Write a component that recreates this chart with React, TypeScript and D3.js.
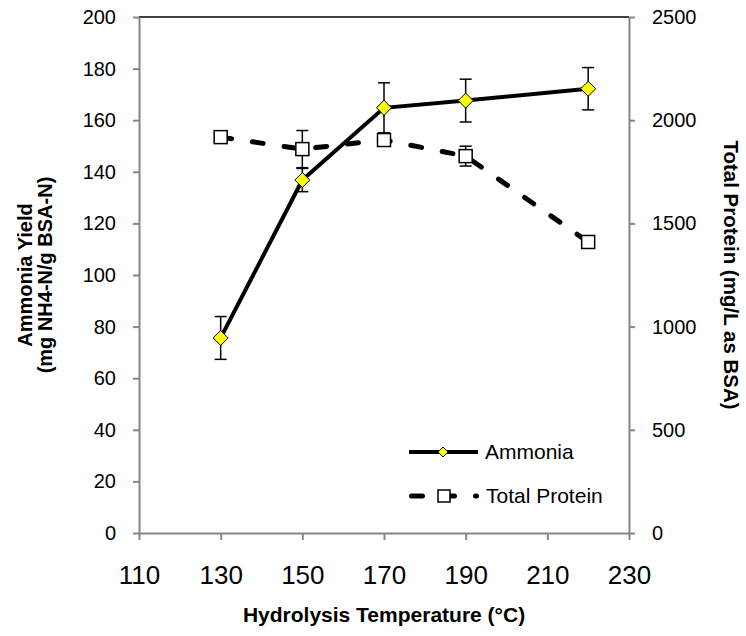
import * as d3 from "d3"
import { useEffect, useRef } from "react"

// hydrolysis temperatures (°C)
const temps = [130, 150, 170, 190, 220]
// ammonia yield (mg NH4-N/g BSA-N) and its error
const ammonia = [75.6, 136.8, 164.8, 167.6, 172.2]
const ammoniaErr = [8.3, 4.5, 9.7, 8.3, 8.2]
// total protein (mg/L as BSA) and its error
const protein = [1918, 1860, 1904, 1826, 1410]
const proteinErr = [20, 90, 20, 48, 15]

const xTicks = [110, 130, 150, 170, 190, 210, 230]
const yLeftTicks = [0, 20, 40, 60, 80, 100, 120, 140, 160, 180, 200]
const yRightTicks = [0, 500, 1000, 1500, 2000, 2500]

const W = 746
const H = 636
const FONT = "'Liberation Sans', Arial, sans-serif"

export default function App() {

	const svgRef = useRef(null)

	useEffect(() => {
		const svg = d3.select(svgRef.current)
		svg.selectAll('*').remove()

		const left = 139, right = 629, top = 17, bottom = 533
		const axisColor = '#868686'

		const x = d3.scaleLinear().domain([110, 230]).range([left, right])
		const yL = d3.scaleLinear().domain([0, 200]).range([bottom, top])
		const yR = d3.scaleLinear().domain([0, 2500]).range([bottom, top])

		// top frame line
		svg.append('line')
			.attr('x1', left).attr('x2', right)
			.attr('y1', top).attr('y2', top)
			.attr('stroke', 'black')
			.attr('stroke-width', 1.5)

		const styleAxis = (g, size) => {
			g.attr('font-family', FONT).attr('font-size', size)
			g.select('.domain').attr('stroke', axisColor).attr('stroke-width', 2)
			g.selectAll('.tick line').attr('stroke', axisColor).attr('stroke-width', 2)
			g.selectAll('.tick text').attr('fill', 'black')
		}

		// left axis
		svg.append('g')
			.attr('transform', `translate(${left},0)`)
			.call(d3.axisLeft(yL).tickValues(yLeftTicks).tickSize(6).tickSizeOuter(0).tickPadding(17))
			.call(g => styleAxis(g, 20))

		// right axis
		svg.append('g')
			.attr('transform', `translate(${right},0)`)
			.call(d3.axisRight(yR).tickValues(yRightTicks).tickFormat(d3.format('d')).tickSize(6).tickSizeOuter(0).tickPadding(17))
			.call(g => styleAxis(g, 20))

		// bottom axis
		svg.append('g')
			.attr('transform', `translate(0,${bottom})`)
			.call(d3.axisBottom(x).tickValues(xTicks).tickSize(7).tickSizeOuter(0).tickPadding(26))
			.call(g => styleAxis(g, 26))

		// axis titles
		svg.append('text')
			.attr('x', (left + right) / 2)
			.attr('y', 622)
			.attr('text-anchor', 'middle')
			.attr('font-family', FONT)
			.attr('font-weight', 'bold')
			.attr('font-size', 21)
			.text('Hydrolysis Temperature (°C)')

		const leftTitle = svg.append('text')
			.attr('transform', `translate(0,${(top + bottom) / 2}) rotate(-90)`)
			.attr('text-anchor', 'middle')
			.attr('font-family', FONT)
			.attr('font-weight', 'bold')
			.attr('font-size', 20)
		leftTitle.append('tspan').attr('x', 0).attr('y', 32).text('Ammonia Yield')
		leftTitle.append('tspan').attr('x', 0).attr('y', 52).text('(mg NH4-N/g BSA-N)')

		svg.append('text')
			.attr('transform', `translate(724,${(top + bottom) / 2}) rotate(90)`)
			.attr('text-anchor', 'middle')
			.attr('font-family', FONT)
			.attr('font-weight', 'bold')
			.attr('font-size', 20.5)
			.text('Total Protein (mg/L as BSA)')

		const protData = temps.map((t, i) => ({ t, v: protein[i], e: proteinErr[i] }))
		const ammData = temps.map((t, i) => ({ t, v: ammonia[i], e: ammoniaErr[i] }))

		const capW = 6
		const errorBars = (data, y) => {
			const g = svg.append('g').attr('stroke', 'black').attr('stroke-width', 1.5)
			data.forEach(d => {
				const cx = x(d.t)
				g.append('line').attr('x1', cx).attr('x2', cx).attr('y1', y(d.v - d.e)).attr('y2', y(d.v + d.e))
				g.append('line').attr('x1', cx - capW).attr('x2', cx + capW).attr('y1', y(d.v - d.e)).attr('y2', y(d.v - d.e))
				g.append('line').attr('x1', cx - capW).attr('x2', cx + capW).attr('y1', y(d.v + d.e)).attr('y2', y(d.v + d.e))
			})
		}

		// total protein: dashed line, error bars, squares
		svg.append('path')
			.datum(protData)
			.attr('d', d3.line().x(d => x(d.t)).y(d => yR(d.v)))
			.attr('fill', 'none')
			.attr('stroke', 'black')
			.attr('stroke-width', 5)
			.attr('stroke-linecap', 'round')
			.attr('stroke-dasharray', '11,21')
		errorBars(protData, yR)
		svg.append('g')
			.selectAll('rect')
			.data(protData)
			.enter()
			.append('rect')
			.attr('x', d => x(d.t) - 6.5)
			.attr('y', d => yR(d.v) - 6.5)
			.attr('width', 13)
			.attr('height', 13)
			.attr('fill', 'white')
			.attr('stroke', 'black')
			.attr('stroke-width', 1.5)

		// ammonia: solid line, error bars, diamonds
		svg.append('path')
			.datum(ammData)
			.attr('d', d3.line().x(d => x(d.t)).y(d => yL(d.v)))
			.attr('fill', 'none')
			.attr('stroke', 'black')
			.attr('stroke-width', 4)
		errorBars(ammData, yL)
		const diamond = 'M0,-7.5L7.5,0L0,7.5L-7.5,0Z'
		svg.append('g')
			.selectAll('path')
			.data(ammData)
			.enter()
			.append('path')
			.attr('d', diamond)
			.attr('transform', d => `translate(${x(d.t)},${yL(d.v)})`)
			.attr('fill', '#FFFF00')
			.attr('stroke', 'black')
			.attr('stroke-width', 1)

		// legend
		const legend = svg.append('g').attr('font-family', FONT).attr('font-size', 21)
		legend.append('line')
			.attr('x1', 409).attr('x2', 478).attr('y1', 452).attr('y2', 452)
			.attr('stroke', 'black').attr('stroke-width', 4)
		legend.append('path')
			.attr('d', 'M0,-5L5,0L0,5L-5,0Z')
			.attr('transform', 'translate(443,452)')
			.attr('fill', '#FFFF00').attr('stroke', 'black').attr('stroke-width', 1)
		legend.append('text').attr('x', 485).attr('y', 459).text('Ammonia')

		legend.append('line')
			.attr('x1', 411.5).attr('x2', 476.5).attr('y1', 496).attr('y2', 496)
			.attr('stroke', 'black').attr('stroke-width', 5)
			.attr('stroke-linecap', 'round')
			.attr('stroke-dasharray', '11,21')
		legend.append('rect')
			.attr('x', 438).attr('y', 490).attr('width', 12).attr('height', 12)
			.attr('fill', 'white').attr('stroke', 'black').attr('stroke-width', 1.5)
		legend.append('text').attr('x', 486).attr('y', 503).text('Total Protein')

	}, [])

	return <svg ref={svgRef} width={W} height={H} style={{ position: 'absolute', left: 0, top: 0, background: 'white' }} />
}
